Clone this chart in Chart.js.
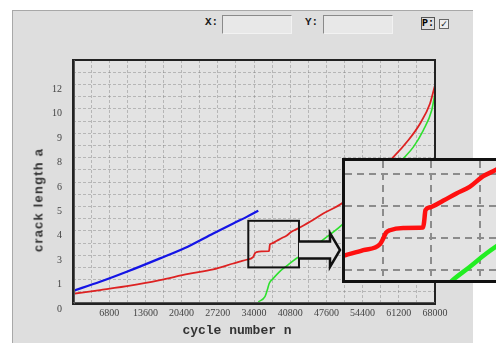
<!DOCTYPE html>
<html>
<head>
<meta charset="utf-8">
<script src="https://cdn.jsdelivr.net/npm/chart.js@4.4.0/dist/chart.umd.min.js"></script>
<style>
  html, body { margin: 0; padding: 0; width: 496px; height: 343px; overflow: hidden; background: #fff; }
  .panel { position: absolute; left: 12px; top: 10px; width: 461px; height: 333px; box-sizing: border-box;
           background: #dedede; border-top: 1px solid #a8a8a8; border-left: 1px solid #a8a8a8; }
  #mainChart { position: absolute; left: 0; top: 0; }
  .lbl { position: absolute; font: bold 11px 'Liberation Mono', monospace; color: #1a1a1a; }
  .field { position: absolute; top: 15px; width: 70px; height: 19px; box-sizing: border-box; background: #e8e8e8;
           border: 1px solid; border-color: #8a8a8a #f2f2f2 #f2f2f2 #8a8a8a; }
  .pbox { position: absolute; left: 421px; top: 17px; width: 14px; height: 13px; box-sizing: border-box;
          border: 1px solid #555; font: bold 10px 'Liberation Mono', monospace; line-height: 11px; text-align: center; }
  .check { position: absolute; left: 439px; top: 19px; width: 8px; height: 8px; border: 1px solid #666;
           font: 9px 'DejaVu Sans'; line-height: 8px; text-align: center; color: #222; background: #eee; }
  .ytitle { position: absolute; left: 38px; top: 200px; transform: translate(-50%, -50%) rotate(-90deg);
            font: bold 13px 'Liberation Sans', Arial, sans-serif; letter-spacing: 1.2px; color: #333; white-space: nowrap; }
  .xtitle { position: absolute; left: 237px; top: 330px; transform: translate(-50%, -50%);
            font: bold 13px 'Liberation Mono', monospace; color: #333; white-space: nowrap; }
  .inset { position: absolute; left: 342px; top: 158px; width: 200px; height: 125px; box-sizing: border-box;
           border: 3px solid #111; background: #e3e3e3; overflow: hidden; }
  #insetChart { display: block; }
</style>
</head>
<body>
<div class="panel"></div>

<span class="lbl" style="left:205px; top:16px;">X:</span>
<div class="field" style="left:222px;"></div>
<span class="lbl" style="left:305px; top:16px;">Y:</span>
<div class="field" style="left:323px;"></div>
<div class="pbox">P:</div>
<div class="check">✓</div>

<canvas id="mainChart" width="496" height="343"></canvas>
<div class="ytitle">crack length a</div>
<div class="xtitle">cycle number n</div>

<div class="inset"><canvas id="insetChart" width="194" height="119"></canvas></div>

<script>
// --- data (y in axis-position units, labels are printed unevenly) ---
const xTickLabels = ['6800', '13600', '20400', '27200', '34000', '40800', '47600', '54400', '61200', '68000'];
const yTickLabels = ['0', '1', '3', '4', '5', '6', '8', '9', '10', '12'];

const blueX = [0, 5070, 10090, 16340, 21660, 26350, 30110, 32630, 34810];
const blueY = [0.54, 0.91, 1.32, 1.87, 2.36, 2.89, 3.30, 3.57, 3.82];

const redX = [0, 5070, 11000, 16340, 21660, 26350, 30110, 31303, 32591, 33767, 34000, 34189, 34471, 35407,
              36815, 36886, 36984, 37287, 38223, 39167, 40102, 41039, 41933, 44515, 47010, 50470, 60160,
              62980, 65180, 67050, 67990];
const redY = [0.42, 0.57, 0.76, 0.98, 1.23, 1.42, 1.66, 1.735, 1.813, 1.906, 1.995, 2.082, 2.124, 2.16,
              2.166, 2.254, 2.436, 2.478, 2.581, 2.696, 2.799, 2.96, 3.059, 3.37, 3.71, 4.12, 6.02,
              6.71, 7.39, 8.21, 8.96];

const greenX = [34810, 36060, 36490, 36870, 37620, 38814, 40102, 41278, 41933, 44515, 47010, 50470,
                62040, 63920, 65800, 67370, 67990];
const greenY = [0.09, 0.30, 0.57, 0.85, 1.05, 1.33, 1.553, 1.761, 1.864, 2.21, 2.64, 3.23,
                5.96, 6.43, 7.12, 7.93, 8.62];

// zoom window marked on the main plot, and the range shown in the enlarged box
const zoomRectX = [32930, 42450];
const zoomRectY = [1.5, 3.41];
const insetX = [31300, 45000];
const insetY = [1.35, 3.2];
const insetGridX = [34000, 37400, 40800, 44200];
const insetGridY = [1.5, 2.0, 2.5, 3.0];

const pts = (xs, ys) => xs.map((x, i) => ({ x: x, y: ys[i] }));

const mainDecor = {
    id: 'mainDecor',
    beforeDraw(chart) {
        const { ctx, chartArea: a } = chart;
        ctx.save();
        ctx.fillStyle = '#e3e3e3';
        ctx.fillRect(a.left, a.top, a.right - a.left, a.bottom - a.top);
        ctx.restore();
    },
    afterDraw(chart) {
        const { ctx, chartArea: a, scales: { x, y } } = chart;
        ctx.save();
        // plot frame
        ctx.strokeStyle = '#222';
        ctx.lineWidth = 2;
        ctx.strokeRect(a.left, a.top, a.right - a.left, a.bottom - a.top);
        ctx.lineWidth = 1;
        ctx.strokeStyle = '#555';
        ctx.beginPath();
        ctx.moveTo(a.left + 1.5, a.top); ctx.lineTo(a.left + 1.5, a.bottom);
        ctx.moveTo(a.left, a.bottom - 1.5); ctx.lineTo(a.right, a.bottom - 1.5);
        ctx.stroke();

        // zoom window
        const rx0 = x.getPixelForValue(zoomRectX[0]), rx1 = x.getPixelForValue(zoomRectX[1]);
        const ry0 = y.getPixelForValue(zoomRectY[1]), ry1 = y.getPixelForValue(zoomRectY[0]);
        ctx.strokeStyle = '#111';
        ctx.lineWidth = 2;
        ctx.strokeRect(rx0, ry0, rx1 - rx0, ry1 - ry0);

        // arrow towards the enlarged box
        const tip = 340, headX = 330, my = 250;
        ctx.beginPath();
        ctx.moveTo(rx1, my - 8.5);
        ctx.lineTo(headX, my - 8.5);
        ctx.lineTo(headX, my - 17);
        ctx.lineTo(tip, my);
        ctx.lineTo(headX, my + 17);
        ctx.lineTo(headX, my + 8.5);
        ctx.lineTo(rx1, my + 8.5);
        ctx.fillStyle = '#e3e3e3';
        ctx.fill();
        ctx.lineWidth = 2.5;
        ctx.lineJoin = 'miter';
        ctx.stroke();
        ctx.restore();
    }
};

const gridCommon = { color: 'rgba(120,120,120,0.42)', lineWidth: 1, drawTicks: false };
const tickFont = { family: "'Liberation Serif', serif", size: 10 };

new Chart(document.getElementById('mainChart'), {
    type: 'line',
    data: {
        datasets: [
            { data: pts(blueX, blueY), borderColor: '#1414e6', borderWidth: 2.2 },
            { data: pts(redX, redY), borderColor: '#dd2222', borderWidth: 1.8 },
            { data: pts(greenX, greenY), borderColor: '#2ee02e', borderWidth: 1.6 }
        ]
    },
    options: {
        responsive: false,
        animation: false,
        devicePixelRatio: 1,
        layout: { padding: { left: 0, top: 60, right: 61, bottom: 0 } },
        elements: { point: { radius: 0 }, line: { cubicInterpolationMode: 'monotone' } },
        plugins: { legend: { display: false }, tooltip: { enabled: false } },
        scales: {
            x: {
                type: 'linear', min: 0, max: 68000,
                grid: gridCommon,
                border: { display: false, dash: [3, 2] },
                afterFit: s => { s.height = 39; },
                ticks: {
                    stepSize: 3400, autoSkip: false, maxRotation: 0, minRotation: 0, padding: 3,
                    color: '#444', font: tickFont,
                    callback: v => (v > 0 && v % 6800 === 0) ? xTickLabels[v / 6800 - 1] : ''
                }
            },
            y: {
                type: 'linear', min: 0, max: 10,
                grid: gridCommon,
                border: { display: false, dash: [3, 2] },
                afterFit: s => { s.width = 73; },
                ticks: {
                    stepSize: 0.5, autoSkip: false, padding: 11, labelOffset: 5,
                    color: '#444', font: tickFont,
                    callback: v => Number.isInteger(v) ? (yTickLabels[v] || '') : ''
                }
            }
        }
    },
    plugins: [mainDecor]
});

// --- enlarged view of the step in the red curve ---
const insetGrid = { color: '#8c8c8c', lineWidth: 2, drawTicks: false };

new Chart(document.getElementById('insetChart'), {
    type: 'line',
    data: {
        datasets: [
            { data: pts(redX, redY), borderColor: '#ff1010', borderWidth: 4.5 },
            { data: pts(greenX, greenY), borderColor: '#22ee22', borderWidth: 4.5 }
        ]
    },
    options: {
        responsive: false,
        animation: false,
        devicePixelRatio: 1,
        layout: { padding: 0 },
        elements: { point: { radius: 0 }, line: { cubicInterpolationMode: 'monotone' } },
        plugins: { legend: { display: false }, tooltip: { enabled: false } },
        scales: {
            x: {
                type: 'linear', min: insetX[0], max: insetX[1],
                grid: insetGrid,
                border: { display: false, dash: [7, 5] },
                ticks: { display: false },
                afterFit: s => { s.height = 0; },
                afterBuildTicks: s => { s.ticks = insetGridX.map(v => ({ value: v })); }
            },
            y: {
                type: 'linear', min: insetY[0], max: insetY[1],
                grid: insetGrid,
                border: { display: false, dash: [7, 5] },
                ticks: { display: false },
                afterFit: s => { s.width = 0; },
                afterBuildTicks: s => { s.ticks = insetGridY.map(v => ({ value: v })); }
            }
        }
    }
});
</script>
</body>
</html>
